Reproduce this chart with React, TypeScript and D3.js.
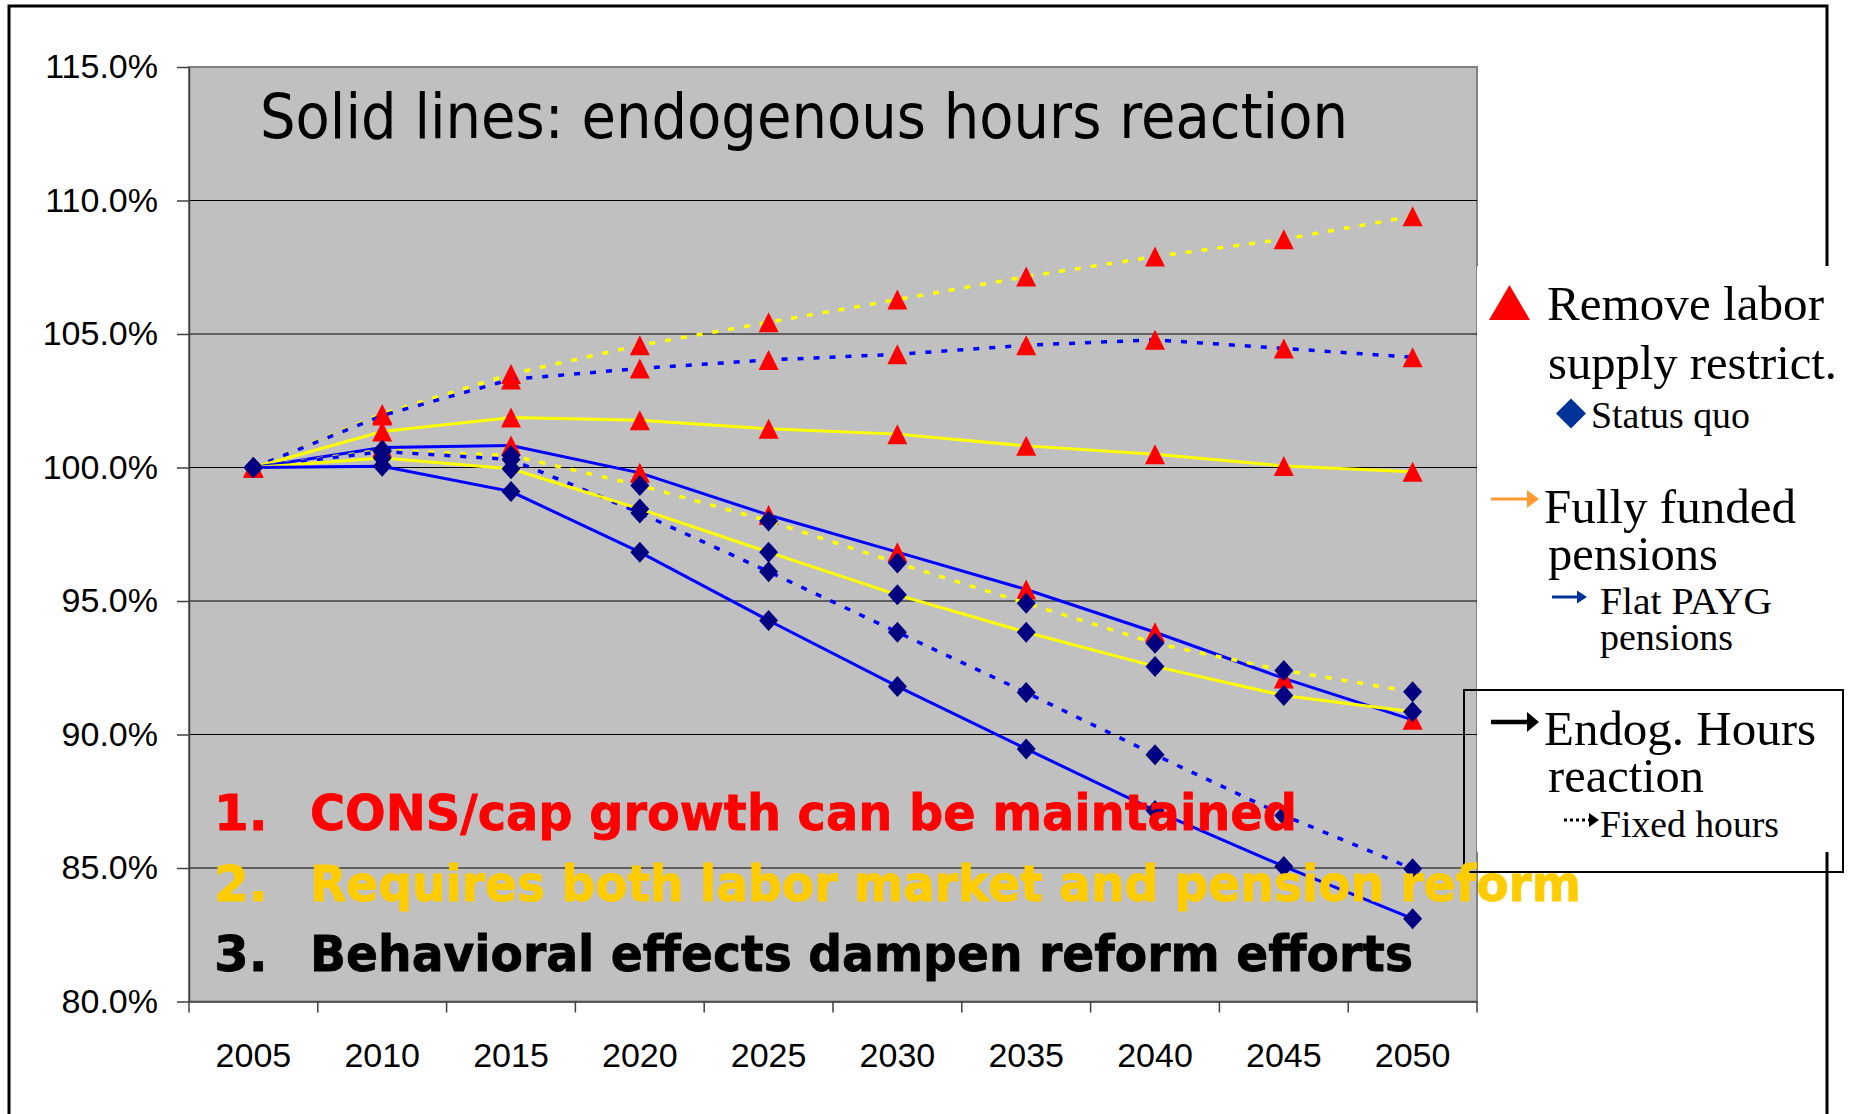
import { useEffect, useRef } from "react";
import * as d3 from "d3";

const years = ["2005", "2010", "2015", "2020", "2025", "2030", "2035", "2040", "2045", "2050"];
const yTicks = [80, 85, 90, 95, 100, 105, 110, 115];

// red triangles = labour supply restrictions removed, navy diamonds = status quo
// yellow = fully funded pensions, blue = flat PAYG; solid = endogenous hours, dotted = fixed hours
const removedFundedFixed = [100, 102.0, 103.5, 104.58, 105.44, 106.29, 107.15, 107.9, 108.55, 109.41];
const removedPaygFixed = [100, 101.95, 103.3, 103.71, 104.03, 104.24, 104.58, 104.78, 104.46, 104.13];
const removedFundedEndog = [100, 101.35, 101.87, 101.77, 101.45, 101.25, 100.81, 100.5, 100.06, 99.84];
const removedPaygEndog = [100, 100.75, 100.82, 99.8, 98.22, 96.83, 95.43, 93.83, 92.1, 90.55];
const quoFundedFixed = [100, 100.65, 100.45, 99.33, 98.0, 96.42, 94.92, 93.42, 92.4, 91.6];
const quoPaygFixed = [100, 100.6, 100.3, 98.3, 96.1, 93.83, 91.57, 89.24, 86.97, 84.97];
const quoFundedEndog = [100, 100.36, 99.95, 98.45, 96.83, 95.23, 93.83, 92.55, 91.46, 90.85];
const quoPaygEndog = [100, 100.05, 99.1, 96.83, 94.27, 91.8, 89.46, 87.15, 85.06, 83.1];

const title = "Solid lines: endogenous hours reaction";
const noteNumbers = ["1.", "2.", "3."];
const noteTexts = [
  "CONS/cap growth can be maintained",
  "Requires both labor market and pension reform",
  "Behavioral effects dampen reform efforts",
];

const TRI = "M0,-10L10,10L-10,10Z";
const DIA = "M0,-10.5L9.5,0L0,10.5L-9.5,0Z";

export default function App() {
  const svgRef = useRef<SVGSVGElement>(null);

  useEffect(() => {
    const svg = d3.select(svgRef.current);
    svg.selectAll("*").remove();

    const W = 1854;
    const H = 1114;
    const plot = { left: 189, right: 1477, top: 67, bottom: 1001.5 };

    const x = d3.scaleBand<string>().domain(years).range([plot.left, plot.right]);
    const cx = (d: string) => (x(d) ?? 0) + x.bandwidth() / 2;
    const y = d3.scaleLinear().domain([80, 115]).range([plot.bottom, plot.top]);

    svg.append("rect").attr("width", W).attr("height", H).attr("fill", "#fff");

    // outer frame (no bottom edge visible)
    svg
      .append("path")
      .attr("d", `M9,${H} V6 H1827 V${H}`)
      .attr("fill", "none")
      .attr("stroke", "#000")
      .attr("stroke-width", 3);

    // plot area
    svg
      .append("rect")
      .attr("x", plot.left)
      .attr("y", plot.top)
      .attr("width", plot.right - plot.left)
      .attr("height", plot.bottom - plot.top)
      .attr("fill", "#c0c0c0")
      .attr("stroke", "#808080")
      .attr("stroke-width", 2);

    svg
      .append("g")
      .selectAll("line")
      .data(yTicks.filter(t => t > 80 && t < 115))
      .join("line")
      .attr("x1", plot.left)
      .attr("x2", plot.right)
      .attr("y1", d => y(d))
      .attr("y2", d => y(d))
      .attr("stroke", "#000")
      .attr("stroke-width", 1.2);

    // y axis
    const yAxis = svg
      .append("g")
      .attr("transform", `translate(${plot.left},0)`)
      .call(
        d3
          .axisLeft(y)
          .tickValues(yTicks)
          .tickFormat(d => d3.format(".1f")(d as number) + "%")
          .tickSize(12)
          .tickSizeOuter(0)
          .tickPadding(19)
      );
    yAxis.attr("font-family", "'Liberation Sans', Arial, sans-serif").attr("font-size", 34);
    yAxis.selectAll("line").attr("stroke", "#404040").attr("stroke-width", 1.5);
    yAxis.select(".domain").attr("stroke", "#404040").attr("stroke-width", 1.5);
    yAxis.selectAll("text").attr("fill", "#000");

    // x axis: labels at band centres, ticks at band edges
    const xAxis = svg
      .append("g")
      .attr("transform", `translate(0,${plot.bottom})`)
      .call(d3.axisBottom(x).tickSize(0).tickSizeOuter(0).tickPadding(41));
    xAxis.attr("font-family", "'Liberation Sans', Arial, sans-serif").attr("font-size", 34);
    xAxis.select(".domain").attr("stroke", "#404040").attr("stroke-width", 1.5);
    xAxis.selectAll("text").attr("fill", "#000");

    svg
      .append("g")
      .selectAll("line")
      .data(d3.range(years.length + 1))
      .join("line")
      .attr("x1", i => plot.left + i * x.step())
      .attr("x2", i => plot.left + i * x.step())
      .attr("y1", plot.bottom)
      .attr("y2", plot.bottom + 11)
      .attr("stroke", "#404040")
      .attr("stroke-width", 1.5);

    // series
    const yellow = "#ffff00";
    const blue = "#0000ff";
    const series = [
      { values: removedFundedFixed, color: yellow, dotted: true, marker: TRI, fill: "#ff0000" },
      { values: removedPaygFixed, color: blue, dotted: true, marker: TRI, fill: "#ff0000" },
      { values: removedFundedEndog, color: yellow, dotted: false, marker: TRI, fill: "#ff0000" },
      { values: removedPaygEndog, color: blue, dotted: false, marker: TRI, fill: "#ff0000" },
      { values: quoFundedFixed, color: yellow, dotted: true, marker: DIA, fill: "#000080" },
      { values: quoPaygFixed, color: blue, dotted: true, marker: DIA, fill: "#000080" },
      { values: quoFundedEndog, color: yellow, dotted: false, marker: DIA, fill: "#000080" },
      { values: quoPaygEndog, color: blue, dotted: false, marker: DIA, fill: "#000080" },
    ];

    const line = d3
      .line<number>()
      .x((_, i) => cx(years[i]))
      .y(d => y(d));

    const sg = svg.append("g");
    series.forEach(s => {
      sg.append("path")
        .attr("d", line(s.values))
        .attr("fill", "none")
        .attr("stroke", s.color)
        .attr("stroke-width", s.dotted ? 3.5 : 3)
        .attr("stroke-dasharray", s.dotted ? "6 10" : null);
      sg.append("g")
        .selectAll("path")
        .data(s.values)
        .join("path")
        .attr("d", s.marker)
        .attr("transform", (d, i) => `translate(${cx(years[i])},${y(d)})`)
        .attr("fill", s.fill);
    });

    // legend panel
    svg
      .append("rect")
      .attr("x", plot.right)
      .attr("y", 266)
      .attr("width", W - plot.right)
      .attr("height", 586)
      .attr("fill", "#fff");

    const lg = svg.append("g").attr("font-family", "'Liberation Serif', 'Times New Roman', serif").attr("fill", "#000");

    lg.append("path").attr("d", "M1489,320L1509.5,285L1530,320Z").attr("fill", "#ff0000");
    lg.append("path").attr("d", "M1571,398.5L1586,413.5L1571,428.5L1556,413.5Z").attr("fill", "#003399");

    const arrow = (x1: number, x2: number, yy: number, color: string, w: number, hw: number, hh: number, dash?: string) => {
      lg.append("line")
        .attr("x1", x1)
        .attr("x2", x2 - hw + 2)
        .attr("y1", yy)
        .attr("y2", yy)
        .attr("stroke", color)
        .attr("stroke-width", w)
        .attr("stroke-dasharray", dash ?? null);
      lg.append("path")
        .attr("d", `M${x2 - hw},${yy - hh}L${x2},${yy}L${x2 - hw},${yy + hh}Z`)
        .attr("fill", color);
    };
    arrow(1491, 1539, 499, "#ff9933", 3, 12, 9);
    arrow(1552, 1587, 597, "#003399", 3, 10, 6.5);
    arrow(1491, 1539, 722, "#000", 4.5, 12, 10);
    arrow(1564, 1599, 820, "#000", 3, 10, 7, "3 3");

    const legendTexts: [string, number, number, number, number][] = [
      ["Remove labor", 1547, 320, 48, 277],
      ["supply restrict.", 1548, 379, 48, 289],
      ["Status quo", 1591, 428, 38, 159],
      ["Fully funded", 1544, 523, 48, 252],
      ["pensions", 1548, 570, 48, 170],
      ["Flat PAYG", 1600, 613.5, 38, 172],
      ["pensions", 1600, 650, 38, 133],
      ["Endog. Hours", 1544, 745, 48, 272],
      ["reaction", 1548, 792, 48, 156],
      ["Fixed hours", 1600, 837, 38, 179],
    ];
    legendTexts.forEach(([t, tx, ty, fs, len]) => {
      lg.append("text")
        .attr("x", tx)
        .attr("y", ty)
        .attr("font-size", fs)
        .attr("textLength", len)
        .attr("lengthAdjust", "spacingAndGlyphs")
        .text(t);
    });

    lg.append("rect")
      .attr("x", 1464)
      .attr("y", 690)
      .attr("width", 379)
      .attr("height", 182)
      .attr("fill", "none")
      .attr("stroke", "#000")
      .attr("stroke-width", 2);

    // overlay texts
    svg
      .append("text")
      .attr("x", 260)
      .attr("y", 137.5)
      .attr("font-family", "'DejaVu Sans', Verdana, sans-serif")
      .attr("font-size", 63)
      .attr("textLength", 1088)
      .attr("lengthAdjust", "spacingAndGlyphs")
      .attr("fill", "#000")
      .text(title);

    const noteColors = ["#ff0000", "#ffcc00", "#000"];
    const noteLens = [987, 1271, 1103];
    const ng = svg
      .append("g")
      .attr("font-family", "'DejaVu Sans', Verdana, sans-serif")
      .attr("font-weight", "bold")
      .attr("font-size", 50);
    noteTexts.forEach((t, i) => {
      const by = 830 + i * 70.7;
      ng.append("text")
        .attr("x", 214)
        .attr("y", by)
        .attr("fill", noteColors[i])
        .attr("stroke", noteColors[i])
        .attr("stroke-width", 0.8)
        .text(noteNumbers[i]);
      ng.append("text")
        .attr("x", 310)
        .attr("y", by)
        .attr("fill", noteColors[i])
        .attr("stroke", noteColors[i])
        .attr("stroke-width", 0.8)
        .attr("textLength", noteLens[i])
        .attr("lengthAdjust", "spacingAndGlyphs")
        .text(t);
    });
  }, []);

  return (
    <svg
      ref={svgRef}
      width={1854}
      height={1114}
      style={{ position: "absolute", left: 0, top: 0, display: "block" }}
    />
  );
}
